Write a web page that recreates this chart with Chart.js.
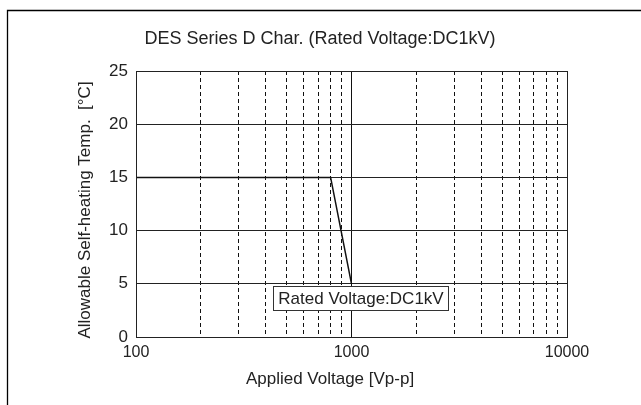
<!DOCTYPE html>
<html><head><meta charset="utf-8">
<script src="https://cdn.jsdelivr.net/npm/chart.js@4"></script>
<style>html,body{margin:0;padding:0;background:#fff;}canvas{display:block;}</style>
</head><body>
<canvas id="c" width="641" height="405"></canvas>
<script>
const voltages = [100, 800, 1000];
const temps = [15, 15, 5];
const xTickValues = [100,200,300,400,500,600,700,800,900,1000,2000,3000,4000,5000,6000,7000,8000,9000,10000];
const xLabelValues = [100, 1000, 10000];
const yTickValues = [0, 5, 10, 15, 20, 25];
const chartTitle = 'DES Series D Char. (Rated Voltage:DC1kV)';
const xTitle = 'Applied Voltage [Vp-p]';
const yTitle = 'Allowable Self-heating Temp.  [°C]';
const annotationText = 'Rated Voltage:DC1kV';
const annotationAt = {x: 1000, y: 5};

const FONT = '"Liberation Sans", Arial, sans-serif';

const decor = {
  id: 'decor',
  beforeDraw(chart) {
    const ctx = chart.ctx;
    ctx.save();
    ctx.fillStyle = '#fff';
    ctx.fillRect(0, 0, chart.width, chart.height);
    ctx.restore();
  },
  afterDraw(chart) {
    const ctx = chart.ctx;
    const a = chart.chartArea;
    const xs = chart.scales.x, ys = chart.scales.y;
    ctx.save();
    ctx.strokeStyle = '#000';
    ctx.lineWidth = 1.3;
    ctx.beginPath();
    ctx.moveTo(7.5, chart.height);
    ctx.lineTo(7.5, 10.5);
    ctx.lineTo(chart.width, 10.5);
    ctx.stroke();
    ctx.lineWidth = 1;
    ctx.strokeStyle = '#222';
    ctx.strokeRect(a.left + 0.5, a.top + 0.5, a.right - a.left, a.bottom - a.top);
    ctx.fillStyle = '#222';
    ctx.font = '18px ' + FONT;
    ctx.textAlign = 'center';
    ctx.textBaseline = 'middle';
    ctx.fillText(chartTitle, 320, 39);
    ctx.font = '17px ' + FONT;
    ctx.fillText(xTitle, 330, 379);
    ctx.save();
    ctx.translate(85, 210);
    ctx.rotate(-Math.PI / 2);
    ctx.fillText(yTitle, 0, 0);
    ctx.restore();
    const px = xs.getPixelForValue(annotationAt.x);
    const py = ys.getPixelForValue(annotationAt.y);
    const bx = Math.round(px - 79) + 0.5, by = Math.round(py + 2) + 0.5, bw = 175, bh = 24;
    ctx.fillStyle = '#fff';
    ctx.fillRect(bx, by, bw, bh);
    ctx.strokeStyle = '#333';
    ctx.lineWidth = 1;
    ctx.strokeRect(bx, by, bw, bh);
    ctx.fillStyle = '#222';
    ctx.font = '17px ' + FONT;
    ctx.fillText(annotationText, bx + bw / 2, by + bh / 2 + 1);
    ctx.restore();
  }
};

new Chart(document.getElementById('c'), {
  type: 'line',
  data: {
    datasets: [{
      data: voltages.map((v, i) => ({x: v, y: temps[i]})),
      borderColor: '#111',
      borderWidth: 1.5,
      pointRadius: 0,
      tension: 0,
      fill: false
    }]
  },
  options: {
    responsive: false,
    animation: false,
    devicePixelRatio: 1,
    layout: {padding: {left: 0, right: 74, top: 71, bottom: 0}},
    plugins: {legend: {display: false}, title: {display: false}, tooltip: {enabled: false}},
    scales: {
      x: {
        type: 'logarithmic',
        min: 100, max: 10000,
        afterBuildTicks(scale) { scale.ticks = xTickValues.map(v => ({value: v})); },
        afterFit(scale) { scale.height = 68; },
        ticks: {
          autoSkip: false, maxRotation: 0, padding: 6,
          color: '#222',
          font: {family: FONT, size: 16},
          callback(v) { return xLabelValues.includes(v) ? String(v) : ''; }
        },
        grid: {drawTicks: false, color: '#111', lineWidth: 1},
        border: {
          display: true, color: '#222',
          dash: ctx => (ctx.tick && ctx.tick.value === 1000) ? [] : [4, 3]
        }
      },
      y: {
        min: 0, max: 25,
        afterBuildTicks(scale) { scale.ticks = yTickValues.map(v => ({value: v})); },
        afterFit(scale) { scale.width = 136; },
        ticks: {padding: 8, color: '#222', font: {family: FONT, size: 17}},
        grid: {drawTicks: false, color: '#222', lineWidth: 1},
        border: {display: true, color: '#222'}
      }
    }
  },
  plugins: [decor]
});
</script>
</body></html>
